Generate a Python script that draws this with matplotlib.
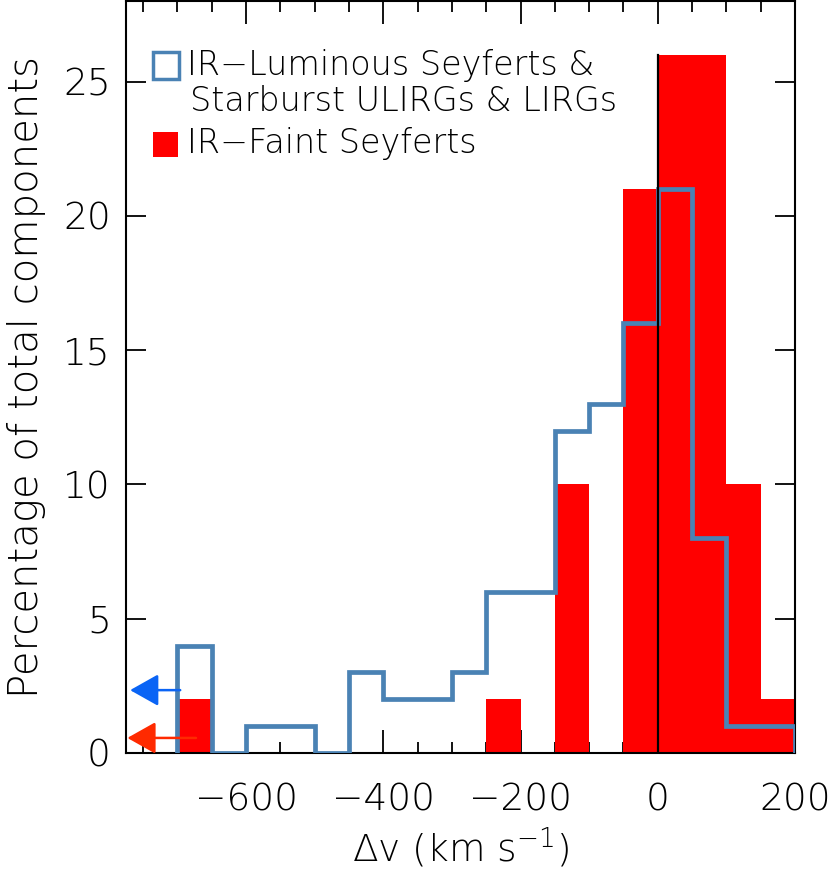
import numpy as np
import matplotlib
matplotlib.use("Agg")
import matplotlib.pyplot as plt
from matplotlib.patches import Rectangle
from matplotlib.ticker import MultipleLocator

plt.rcParams['font.family'] = ['DejaVu Sans']
plt.rcParams['font.weight'] = 'light'
plt.rcParams['axes.labelweight'] = 'light'
plt.rcParams['mathtext.default'] = 'regular'

# ------------------------------------------------------------
# data: velocity-offset histograms (percent of total components)
# ------------------------------------------------------------
bin_edges = [-700, -650, -600, -550, -500, -450, -400, -350, -300, -250,
             -200, -150, -100, -50, 0, 50, 100, 150, 200]
ir_luminous = [4, 0, 1, 1, 0, 3, 2, 2, 3, 6, 6, 12, 13, 16, 21, 8, 1, 1]
ir_faint = [2, 0, 0, 0, 0, 0, 0, 0, 0, 2, 0, 10, 0, 21, 26, 26, 10, 2]

x_ticks = [-600, -400, -200, 0, 200]
y_ticks = [0, 5, 10, 15, 20, 25]

# out-of-range arrows (y level, arrow tip, arrow tail)
lum_arrow = (2.34, -769, -696)
faint_arrow = (0.56, -773, -673)
zero_line_top = 26

label_lum = "IR\u2212Luminous Seyferts &"
label_lum2 = "Starburst ULIRGs & LIRGs"
label_faint = "IR\u2212Faint Seyferts"

STEEL = '#4a82b4'
RED = '#ff0000'

fig = plt.figure(figsize=(8.3, 8.71), dpi=100)
ax = fig.add_axes([0.1518, 0.1355, 0.806, 0.8634])

ax.stairs(ir_faint, bin_edges, fill=True, color=RED, zorder=2)
ax.stairs(ir_luminous, bin_edges, baseline=0, color=STEEL, lw=3.4, zorder=3)
ax.plot([0, 0], [0, zero_line_top], color='k', lw=1.6, zorder=4)

for (yv, tip, tail), col in [(lum_arrow, '#0a64f5'), (faint_arrow, '#ff2a00')]:
    ax.annotate('', xy=(tip, yv), xytext=(tail, yv),
                arrowprops=dict(arrowstyle='-|>,head_length=1.6,head_width=0.9',
                                mutation_scale=11, color=col, lw=1.8,
                                shrinkA=0, shrinkB=0), zorder=5)

# hand-made legend
ax.add_patch(Rectangle((0.0404, 0.8963), 0.0389, 0.0359, transform=ax.transAxes,
                       facecolor='none', edgecolor=STEEL, lw=2.5))
ax.add_patch(Rectangle((0.0404, 0.7926), 0.0374, 0.0332, transform=ax.transAxes,
                       facecolor=RED, edgecolor='none'))
ax.text(0.091, 0.9016, label_lum, transform=ax.transAxes, fontsize=24, va='baseline')
ax.text(0.096, 0.8537, label_lum2, transform=ax.transAxes, fontsize=24, va='baseline')
ax.text(0.091, 0.798, label_faint, transform=ax.transAxes, fontsize=24, va='baseline')

ax.set_xlim(-775, 200)
ax.set_ylim(0, 28)
ax.set_xticks(x_ticks)
ax.set_yticks(y_ticks)
ax.xaxis.set_minor_locator(MultipleLocator(50))

ax.tick_params(axis='both', which='both', direction='in', top=True, right=True,
               width=1.3, labelsize=27)
ax.tick_params(axis='x', which='major', length=16.5, pad=21)
ax.tick_params(axis='x', which='minor', length=8)
ax.tick_params(axis='y', which='major', length=14.5, pad=11)
for s in ax.spines.values():
    s.set_linewidth(1.5)

ax.set_xlabel(r'$\Delta$v (km s$^{-1}$)', fontsize=27, labelpad=6)
ax.set_ylabel('Percentage of total components', fontsize=29, labelpad=12)

fig.savefig('out.png', dpi=100)
